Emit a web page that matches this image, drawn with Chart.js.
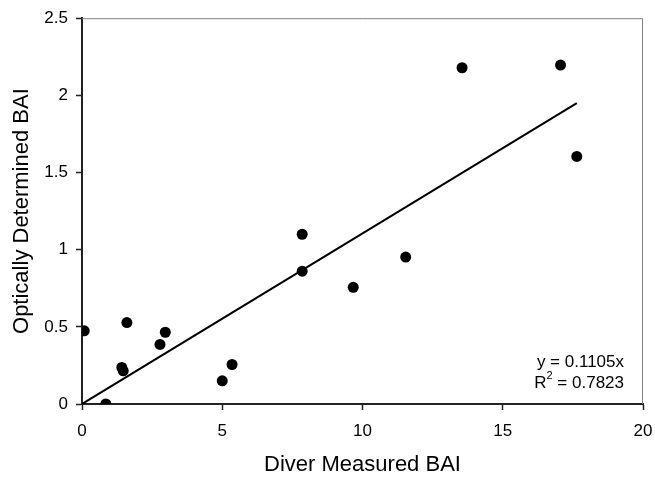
<!DOCTYPE html>
<html>
<head>
<meta charset="utf-8">
<script src="https://cdn.jsdelivr.net/npm/chart.js@4.4.0/dist/chart.umd.min.js"></script>
<style>
  html, body { margin: 0; padding: 0; background: #fff; }
  #wrap { width: 655px; height: 479px; }
</style>
</head>
<body>
<div id="wrap"><canvas id="baiChart"></canvas></div>
<script>
// diver vs optical BAI measurements
const diverBAI   = [0.08, 0.85, 1.60, 1.42, 1.47, 2.78, 2.97, 5.00, 5.35, 7.85, 7.85, 9.67, 11.54, 13.55, 17.06, 17.64];
const opticalBAI = [0.474, 0.0, 0.528, 0.237, 0.215, 0.386, 0.465, 0.15, 0.256, 1.10, 0.861, 0.756, 0.952, 2.179, 2.196, 1.604];

// linear fit through the origin
const slope = 0.1105;
const rSquared = 0.7823;

const xTicks = [0, 5, 10, 15, 20];
const yTicks = [0, 0.5, 1, 1.5, 2, 2.5];

const FONT = "'Liberation Sans', Arial, sans-serif";

const points = diverBAI.map((x, i) => ({ x: x, y: opticalBAI[i] }));
const xEnd = Math.max(...diverBAI);
const fitLine = [{ x: 0, y: 0 }, { x: xEnd, y: slope * xEnd }];

// grey frame on the top and right of the plot area
const frame = {
    id: 'frame',
    afterDraw(chart) {
        const { ctx, chartArea: a } = chart;
        ctx.save();
        ctx.strokeStyle = '#808080';
        ctx.lineWidth = 1;
        ctx.beginPath();
        ctx.moveTo(a.left, a.top + 0.5);
        ctx.lineTo(a.right - 0.5, a.top + 0.5);
        ctx.lineTo(a.right - 0.5, a.bottom);
        ctx.stroke();
        ctx.restore();
    }
};

// regression equation in the lower right corner
const equation = {
    id: 'equation',
    afterDraw(chart) {
        const { ctx, chartArea: a } = chart;
        const right = a.right - 19;
        ctx.save();
        ctx.fillStyle = '#000';
        ctx.textBaseline = 'middle';
        ctx.font = '17px ' + FONT;
        ctx.textAlign = 'right';
        ctx.fillText('y = ' + slope + 'x', right, a.bottom - 42);

        const rest = ' = ' + rSquared;
        const wRest = ctx.measureText(rest).width;
        ctx.font = '11px ' + FONT;
        const wSup = ctx.measureText('2').width;
        ctx.font = '17px ' + FONT;
        const wR = ctx.measureText('R').width;
        const y2 = a.bottom - 21;
        ctx.textAlign = 'left';
        let x = right - wRest - wSup - wR;
        ctx.fillText('R', x, y2);
        x += wR;
        ctx.font = '11px ' + FONT;
        ctx.fillText('2', x, y2 - 7);
        x += wSup;
        ctx.font = '17px ' + FONT;
        ctx.fillText(rest, x, y2);
        ctx.restore();
    }
};

function axisGrid() {
    return {
        display: true,
        drawOnChartArea: false,
        drawTicks: true,
        tickLength: 6,
        tickWidth: 1.5,
        color: '#222'
    };
}

Chart.defaults.font.family = FONT;
Chart.defaults.color = '#000';

const ctx = document.getElementById('baiChart').getContext('2d');
new Chart(ctx, {
    type: 'scatter',
    data: {
        datasets: [
            {
                label: 'BAI',
                data: points,
                backgroundColor: '#000',
                borderColor: '#000',
                borderWidth: 0,
                pointRadius: 5.5,
                order: 0
            },
            {
                label: 'Linear fit',
                data: fitLine,
                showLine: true,
                borderColor: '#000',
                borderWidth: 2,
                pointRadius: 0,
                fill: false,
                order: 1
            }
        ]
    },
    options: {
        responsive: true,
        maintainAspectRatio: false,
        animation: false,
        layout: { padding: { left: 0, top: 17, right: 12, bottom: 0 } },
        plugins: {
            legend: { display: false },
            tooltip: { enabled: false }
        },
        scales: {
            x: {
                type: 'linear',
                min: 0,
                max: 20,
                afterBuildTicks: (s) => { s.ticks = xTicks.map(v => ({ value: v })); },
                afterFit: (s) => {
                    s.height = 75;
                    s.paddingLeft = 0;
                    s.paddingRight = 0;
                },
                grid: axisGrid(),
                border: { display: true, color: '#222', width: 2 },
                ticks: {
                    font: { size: 17 },
                    padding: 11,
                    maxRotation: 0,
                    callback: (v) => String(v)
                },
                title: {
                    display: true,
                    text: 'Diver Measured BAI',
                    font: { size: 22 },
                    padding: { top: 0, bottom: 1 }
                }
            },
            y: {
                type: 'linear',
                min: 0,
                max: 2.5,
                afterBuildTicks: (s) => { s.ticks = yTicks.map(v => ({ value: v })); },
                afterFit: (s) => { s.width = 82; },
                grid: axisGrid(),
                border: { display: true, color: '#222', width: 2 },
                ticks: {
                    font: { size: 17 },
                    padding: 8,
                    callback: (v) => String(v)
                },
                title: {
                    display: true,
                    text: 'Optically Determined BAI',
                    font: { size: 22 },
                    padding: { top: 9, bottom: 0 }
                }
            }
        }
    },
    plugins: [frame, equation]
});
</script>
</body>
</html>
